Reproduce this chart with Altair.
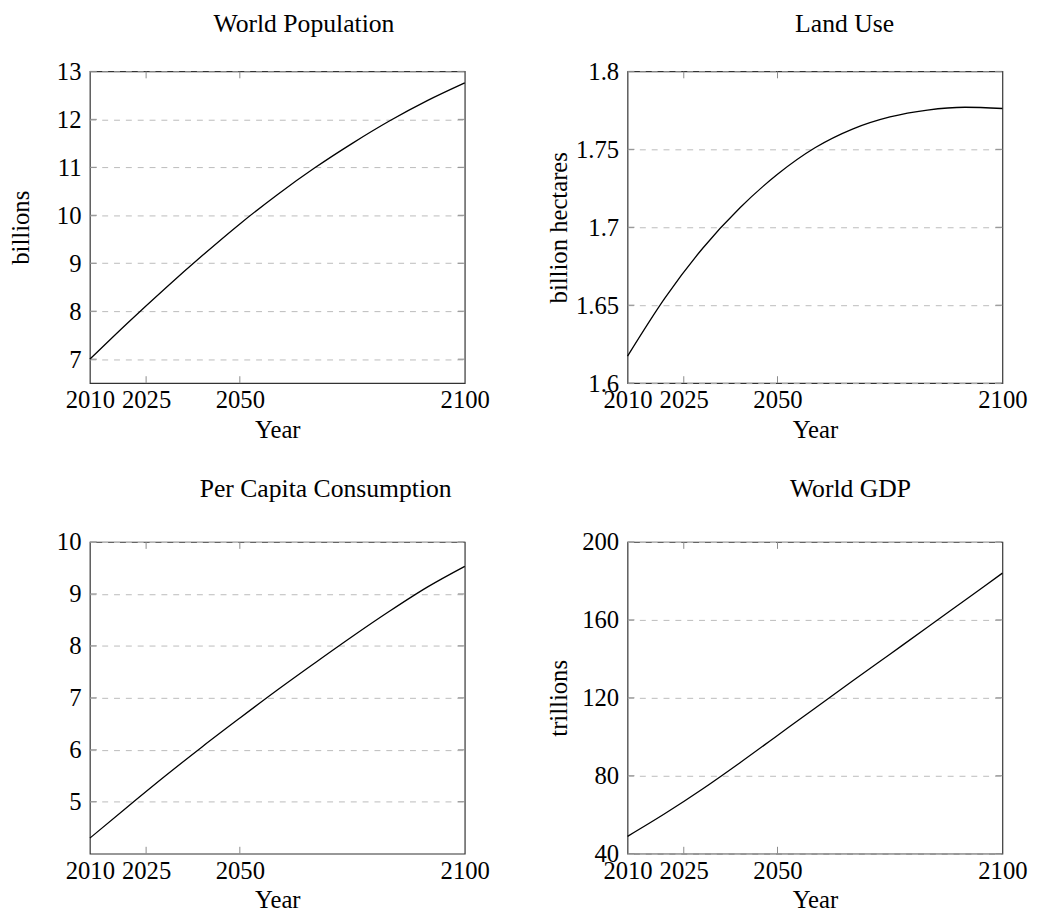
import altair as alt
import pandas as pd

# Years since 2010 (x positions) and their tick labels
steps = [0, 10, 20, 30, 40, 50, 60, 70, 80, 90, 100]
tick_steps = [0, 15, 40, 100]
tick_labels = ["2010", "2025", "2050", "2100"]

# Series
population = [7.00, 7.75, 8.47, 9.16, 9.82, 10.43, 10.99, 11.50, 11.97, 12.39, 12.76]
land_use = [1.6173, 1.6547, 1.6864, 1.7125, 1.7340, 1.7510, 1.7630, 1.7708, 1.7752, 1.7770, 1.7762]
consumption = [4.30, 4.90, 5.49, 6.06, 6.61, 7.15, 7.67, 8.18, 8.67, 9.13, 9.53]
gdp = [48.9, 60.6, 73.2, 86.7, 100.7, 114.7, 128.6, 142.4, 156.2, 170.1, 184.0]

panel_titles = ["World Population", "Land Use", "Per Capita Consumption", "World GDP"]
y_titles = ["billions", "billion hectares", None, "trillions"]
y_domains = [[6.5, 13], [1.6, 1.8], [4, 10], [40, 200]]
y_ticks = [
    [7, 8, 9, 10, 11, 12, 13],
    [1.6, 1.65, 1.7, 1.75, 1.8],
    [5, 6, 7, 8, 9, 10],
    [40, 80, 120, 160, 200],
]
title_dx = [27, 30, 49, 36]
title_offset = [23, 23, 29, 29]
series = [population, land_use, consumption, gdp]

FONT = "Liberation Serif"
W, H = 380, 316
TICK = 7

label_expr = " : ".join(
    f"datum.value == {s} ? '{l}'" for s, l in zip(tick_steps, tick_labels)
) + " : ''"


def panel(i):
    df = pd.DataFrame({"step": steps, "v": series[i]})
    x_axis = alt.Axis(
        values=tick_steps, labelExpr=label_expr, title="Year", grid=False,
        labelPadding=25, labelBaseline="alphabetic", labelFlush=False,
        labelOverlap=False, titleY=55, titleBaseline="alphabetic",
    )
    y_kwargs = dict(values=y_ticks[i], format="~r", grid=True, labelPadding=9,
                    labelOverlap=False, labelFlush=False)
    if y_titles[i]:
        y_kwargs.update(title=y_titles[i], titleX=-57, titleY=H / 2)
    else:
        y_kwargs.update(title=None)
    y_axis = alt.Axis(**y_kwargs)

    xs = alt.Scale(domain=[tick_steps[0], tick_steps[-1]], nice=False, zero=False)
    ys = alt.Scale(domain=y_domains[i], nice=False, zero=False)

    line = alt.Chart(df).mark_line(color="black", strokeWidth=1.3, interpolate="monotone").encode(
        x=alt.X("step:Q", scale=xs, axis=x_axis),
        y=alt.Y("v:Q", scale=ys, axis=y_axis),
    )

    xt = pd.DataFrame({"step": tick_steps[1:-1]})
    yt = pd.DataFrame({"v": y_ticks[i]})
    tick_style = dict(color="#8a8a8a", strokeWidth=1)
    xt_bot = alt.Chart(xt).mark_rule(**tick_style).encode(
        x=alt.X("step:Q", scale=xs, axis=x_axis), y=alt.value(H - TICK), y2=alt.value(H))
    xt_top = alt.Chart(xt).mark_rule(**tick_style).encode(
        x=alt.X("step:Q", scale=xs, axis=x_axis), y=alt.value(0), y2=alt.value(TICK))
    yt_left = alt.Chart(yt).mark_rule(**tick_style).encode(
        y=alt.Y("v:Q", scale=ys, axis=y_axis), x=alt.value(0), x2=alt.value(TICK))
    yt_right = alt.Chart(yt).mark_rule(**tick_style).encode(
        y=alt.Y("v:Q", scale=ys, axis=y_axis), x=alt.value(W - TICK), x2=alt.value(W))

    return alt.layer(xt_bot, xt_top, yt_left, yt_right, line).properties(
        width=W, height=H,
        title=alt.TitleParams(panel_titles[i], dx=title_dx[i], offset=title_offset[i]),
    )


chart = alt.concat(*[panel(i) for i in range(4)], columns=2, spacing={"column": 56, "row": 32}).properties(
    padding={"left": 0, "top": -4, "right": 5, "bottom": 5}
).configure_view(
    stroke="#333333", strokeWidth=1.2
).configure_axis(
    domain=False, ticks=False, tickSize=0,
    labelFont=FONT, labelFontSize=25, labelColor="black",
    titleFont=FONT, titleFontSize=25, titleFontWeight="normal", titleColor="black",
    gridColor="#bbbbbb", gridDash=[6, 6], gridWidth=1,
).configure_title(
    font=FONT, fontSize=26, fontWeight="normal", color="black", anchor="middle"
)

chart.save("out.html", embed_options={"renderer": "svg", "actions": False})
